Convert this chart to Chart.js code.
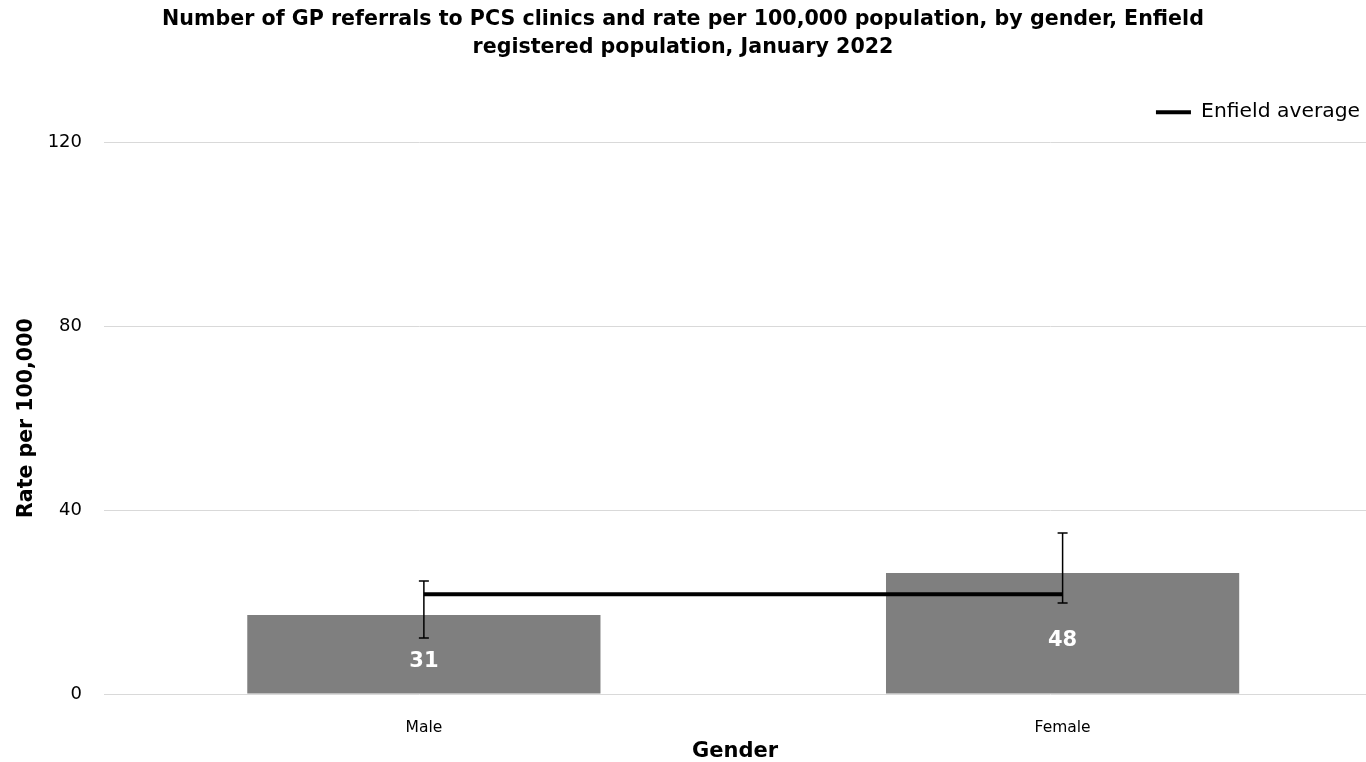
<!DOCTYPE html>
<html>
<head>
<meta charset="utf-8">
<script src="https://cdn.jsdelivr.net/npm/chart.js@4"></script>
<style>
  html, body { margin: 0; padding: 0; background: #fff; overflow: hidden; }
  #wrap { position: relative; width: 1366px; height: 762px; }
</style>
</head>
<body>
<div id="wrap"><canvas id="genderChart"></canvas></div>
<script>
// Data
const categories = ["Male", "Female"];
const rates = [17.2, 26.3];
const counts = [31, 48];
const errLow = [12.2, 19.8];
const errHigh = [24.6, 35.0];
const enfieldAverage = 21.7;
const yTicks = [0, 40, 80, 120];

const FONT = "'DejaVu Sans', sans-serif";

// empty strip between the legend and the plot area
const spacer = {
    id: "spacer",
    beforeInit(chart) {
        Chart.layouts.addBox(chart, {
            position: "top",
            weight: 0,
            fullSize: true,
            options: {},
            isHorizontal() { return true; },
            update(maxWidth) { this.width = maxWidth; this.height = 10; },
            draw() {}
        });
    }
};

// error bars + count labels inside the bars
const extras = {
    id: "extras",
    afterDatasetsDraw(chart) {
        const ctx = chart.ctx;
        const x = chart.scales.x, y = chart.scales.y;
        ctx.save();
        ctx.strokeStyle = "#000";
        ctx.lineWidth = 1.5;
        categories.forEach((c, i) => {
            const px = x.getPixelForValue(i);
            const top = y.getPixelForValue(errHigh[i]);
            const bot = y.getPixelForValue(errLow[i]);
            ctx.beginPath();
            ctx.moveTo(px, top); ctx.lineTo(px, bot);
            ctx.moveTo(px - 5, top); ctx.lineTo(px + 5, top);
            ctx.moveTo(px - 5, bot); ctx.lineTo(px + 5, bot);
            ctx.stroke();
        });
        ctx.fillStyle = "#fff";
        ctx.font = "bold 21px " + FONT;
        ctx.textAlign = "center";
        ctx.textBaseline = "middle";
        const bars = chart.getDatasetMeta(0).data;
        bars.forEach((bar, i) => {
            const mid = (bar.y + bar.base) / 2;
            ctx.fillText(String(counts[i]), bar.x, mid + 7);
        });
        ctx.restore();
    }
};

new Chart(document.getElementById("genderChart"), {
    data: {
        datasets: [
            {
                type: "bar",
                label: "Rate",
                data: categories.map((c, i) => ({ x: i, y: rates[i] })),
                backgroundColor: "#7f7f7f",
                barPercentage: 1,
                categoryPercentage: 0.553,
                order: 2
            },
            {
                type: "line",
                label: "Enfield average",
                data: categories.map((c, i) => ({ x: i, y: enfieldAverage })),
                borderColor: "#000",
                backgroundColor: "#000",
                borderWidth: 4,
                pointRadius: 0,
                order: 1
            }
        ]
    },
    options: {
        responsive: true,
        maintainAspectRatio: false,
        animation: false,
        layout: { padding: 0 },
        plugins: {
            title: {
                display: true,
                text: [
                    "Number of GP referrals to PCS clinics and rate per 100,000 population, by gender, Enfield",
                    "registered population, January 2022"
                ],
                color: "#000",
                font: { family: FONT, size: 20.6, weight: "bold", lineHeight: 1.36 },
                padding: { top: 6, bottom: 34 }
            },
            legend: {
                position: "top",
                align: "end",
                labels: {
                    filter: item => item.text === "Enfield average",
                    usePointStyle: true,
                    pointStyle: "line",
                    pointStyleWidth: 35,
                    color: "#000",
                    font: { family: FONT, size: 20.3 },
                    padding: 6
                }
            },
            tooltip: { enabled: false }
        },
        scales: {
            x: {
                type: "linear",
                offset: false,
                min: -0.5008,
                max: 1.475,
                afterBuildTicks(scale) {
                    scale.ticks = categories.map((c, i) => ({ value: i }));
                },
                afterFit(scale) { scale.height = 68; },
                ticks: {
                    callback: v => categories[v],
                    color: "#000",
                    font: { family: FONT, size: 15.5 },
                    padding: 17,
                    maxRotation: 0
                },
                grid: { display: false },
                border: { display: false },
                title: {
                    display: true,
                    text: "Gender",
                    color: "#000",
                    font: { family: FONT, size: 21, weight: "bold", lineHeight: 1 },
                    padding: { top: 0, bottom: 0 }
                }
            },
            y: {
                min: 0,
                max: 120,
                afterBuildTicks(scale) {
                    scale.ticks = yTicks.map(v => ({ value: v }));
                },
                afterFit(scale) { scale.width = 104; },
                ticks: {
                    color: "#000",
                    font: { family: FONT, size: 18 },
                    padding: 22
                },
                grid: { color: "#d9d9d9", lineWidth: 1, drawTicks: false },
                border: { display: false },
                title: {
                    display: true,
                    text: "Rate per 100,000",
                    color: "#000",
                    font: { family: FONT, size: 20.5, weight: "bold" },
                    padding: { top: 14, bottom: 0 }
                }
            }
        }
    },
    plugins: [spacer, extras]
});
</script>
</body>
</html>
